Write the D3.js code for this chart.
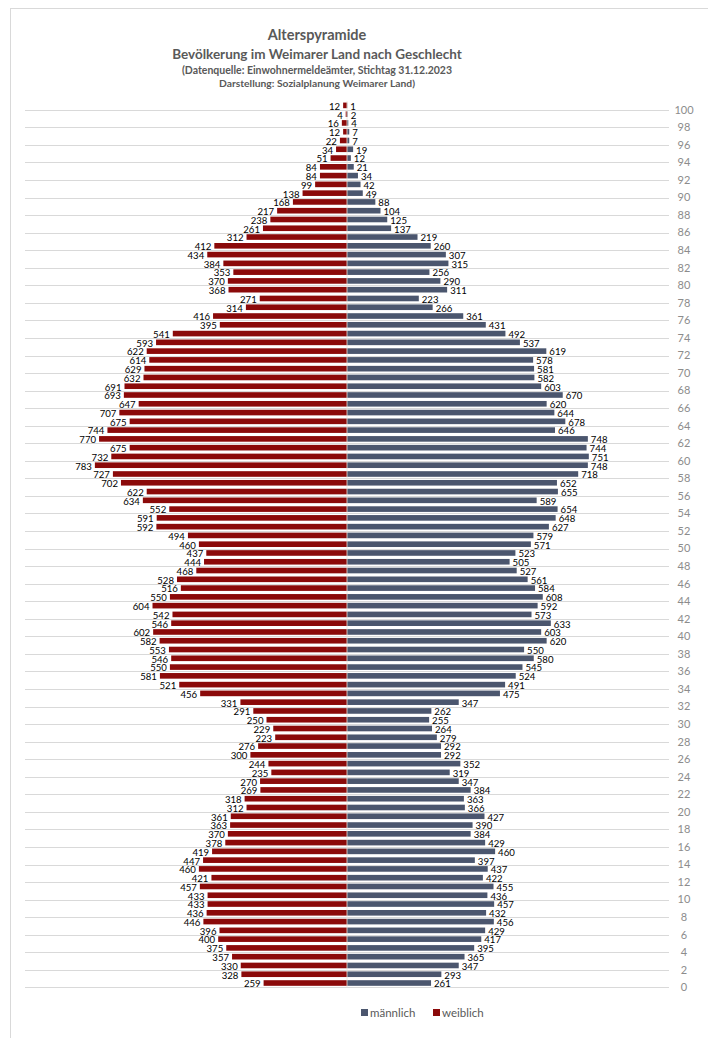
<!DOCTYPE html>
<html>
<head>
<meta charset="utf-8">
<script src="https://cdn.jsdelivr.net/npm/d3@7"></script>
<style>
  html, body { margin: 0; padding: 0; background: #fff; }
  svg { display: block; }
</style>
</head>
<body>
<svg id="chart" width="708" height="1038"></svg>
<script>
// ---- data (ages 0..100) ----
const ages = [0,1,2,3,4,5,6,7,8,9,10,11,12,13,14,15,16,17,18,19,20,21,22,23,24,25,26,27,28,29,30,31,32,33,34,35,36,37,38,39,40,41,42,43,44,45,46,47,48,49,50,51,52,53,54,55,56,57,58,59,60,61,62,63,64,65,66,67,68,69,70,71,72,73,74,75,76,77,78,79,80,81,82,83,84,85,86,87,88,89,90,91,92,93,94,95,96,97,98,99,100];
const weiblich = [259,328,330,357,375,400,396,446,436,433,433,457,421,460,447,419,378,370,363,361,312,318,269,270,235,244,300,276,223,229,250,291,331,456,521,581,550,546,553,582,602,546,542,604,550,516,528,468,444,437,460,494,592,591,552,634,622,702,727,783,732,675,770,744,675,707,647,693,691,632,629,614,622,593,541,395,416,314,271,368,370,353,384,434,412,312,261,238,217,168,138,99,84,84,51,34,22,12,16,4,12];
const maennlich = [261,293,347,365,395,417,429,456,432,457,436,455,422,437,397,460,429,384,390,427,366,363,384,347,319,352,292,292,279,264,255,262,347,475,491,524,545,580,550,620,603,633,573,592,608,584,561,527,505,523,571,579,627,648,654,589,655,652,718,748,751,744,748,646,678,644,620,670,603,582,581,578,619,537,492,431,361,266,223,311,290,256,315,307,260,219,137,125,104,88,49,42,34,21,12,19,7,7,4,2,1];
const tickAges = [0,2,4,6,8,10,12,14,16,18,20,22,24,26,28,30,32,34,36,38,40,42,44,46,48,50,52,54,56,58,60,62,64,66,68,70,72,74,76,78,80,82,84,86,88,90,92,94,96,98,100];
const titleLines = ["Alterspyramide", "Bevölkerung im Weimarer Land nach Geschlecht", "(Datenquelle: Einwohnermeldeämter, Stichtag 31.12.2023", "Darstellung: Sozialplanung Weimarer Land)"];
const seriesNames = ["männlich", "weiblich"];
const colors = { m: "#4b566e", w: "#8b0a0a" };

const rows = ages.map((a, i) => ({ age: a, w: weiblich[i], m: maennlich[i] }));

const svg = d3.select("#chart");
const FONT = "Lato, 'Open Sans', 'Liberation Sans', sans-serif";

// chart border
svg.append("line").attr("x1", 10.5).attr("x2", 10.5).attr("y1", 8).attr("y2", 1038).attr("stroke", "#d9d9d9");
svg.append("line").attr("x1", 10).attr("x2", 708).attr("y1", 8.5).attr("y2", 8.5).attr("stroke", "#d9d9d9");

// scales
const x = d3.scaleLinear().domain([-1000, 1000]).range([25, 669]);
const y = d3.scaleBand().domain(ages.slice().reverse()).range([101, 987.4]).paddingInner(0.36).paddingOuter(0.18);
const step = y.step();
const bandBottom = a => y(a) - y.paddingInner() * step / 2 + step;

// gridlines at bottom of each even-age band
svg.append("g").selectAll("line").data(tickAges).join("line")
  .attr("x1", x(-1000)).attr("x2", x(1000))
  .attr("y1", d => Math.round(bandBottom(d)) + 0.5)
  .attr("y2", d => Math.round(bandBottom(d)) + 0.5)
  .attr("stroke", "#d9d9d9").attr("stroke-width", 1);

// right axis tick labels
svg.append("g").selectAll("text").data(tickAges).join("text")
  .attr("x", 684)
  .attr("y", d => bandBottom(d))
  .attr("dy", "0.35em")
  .attr("text-anchor", "middle")
  .attr("font-family", FONT).attr("font-size", 11).attr("fill", "#8c8c8c")
  .text(d => d);

// bars
const bars = svg.append("g");
bars.selectAll("rect.w").data(rows).join("rect").attr("class", "w")
  .attr("x", d => x(-d.w)).attr("width", d => x(0) - x(-d.w))
  .attr("y", d => y(d.age)).attr("height", y.bandwidth())
  .attr("fill", colors.w);
bars.selectAll("rect.m").data(rows).join("rect").attr("class", "m")
  .attr("x", x(0)).attr("width", d => x(d.m) - x(0))
  .attr("y", d => y(d.age)).attr("height", y.bandwidth())
  .attr("fill", colors.m);

// center axis line
svg.append("line").attr("x1", x(0)).attr("x2", x(0)).attr("y1", 101).attr("y2", 987.4)
  .attr("stroke", "#efe2d8").attr("stroke-width", 0.8);

// data labels
const lbl = svg.append("g").attr("font-family", FONT).attr("font-size", 9.6).attr("fill", "#000");
lbl.selectAll("text.w").data(rows).join("text").attr("class", "w")
  .attr("x", d => x(-d.w) - 3).attr("y", d => y(d.age) + y.bandwidth()/2 + 1)
  .attr("dy", "0.35em").attr("text-anchor", "end").text(d => d.w);
lbl.selectAll("text.m").data(rows).join("text").attr("class", "m")
  .attr("x", d => x(d.m) + 3).attr("y", d => y(d.age) + y.bandwidth()/2 + 1)
  .attr("dy", "0.35em").attr("text-anchor", "start").text(d => d.m);

// titles
const t = svg.append("g").attr("font-family", FONT).attr("fill", "#595959").attr("text-anchor", "middle");
t.append("text").attr("x", 317).attr("y", 40).attr("font-size", 14.5).attr("font-weight", "bold").text(titleLines[0]);
t.append("text").attr("x", 317).attr("y", 58.5).attr("font-size", 13.5).attr("font-weight", "bold").text(titleLines[1]);
t.append("text").attr("x", 317).attr("y", 74).attr("font-size", 10.5).attr("font-weight", "bold").text(titleLines[2]);
t.append("text").attr("x", 317).attr("y", 86.5).attr("font-size", 10.3).attr("font-weight", "bold").text(titleLines[3]);

// legend
const legend = svg.append("g").attr("font-family", FONT).attr("font-size", 11.5).attr("fill", "#595959");
const legItems = [{ name: seriesNames[0], c: colors.m, x: 361 }, { name: seriesNames[1], c: colors.w, x: 433 }];
legItems.forEach(it => {
  legend.append("rect").attr("x", it.x).attr("y", 1009).attr("width", 7).attr("height", 7).attr("fill", it.c);
  legend.append("text").attr("x", it.x + 9).attr("y", 1017).text(it.name);
});
</script>
</body>
</html>
